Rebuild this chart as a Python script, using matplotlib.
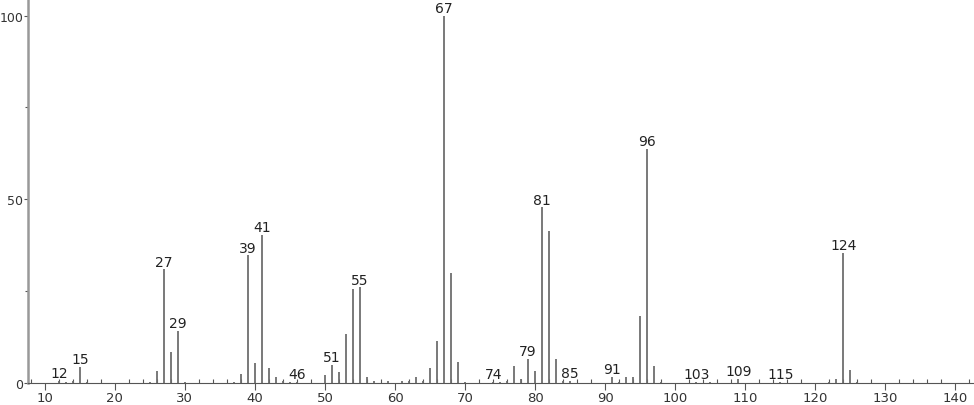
import matplotlib
import matplotlib.pyplot as plt
from matplotlib.ticker import MultipleLocator

matplotlib.use("Agg")

# m/z and relative intensity
MZ = [12, 13, 14, 15, 16, 25, 26, 27, 28, 29, 30, 37, 38, 39, 40, 41, 42, 43, 44,
      45, 46, 50, 51, 52, 53, 54, 55, 56, 57, 59, 61, 62, 63, 64, 65, 66, 67, 68,
      69, 70, 74, 75, 76, 77, 78, 79, 80, 81, 82, 83, 84, 85, 91, 92, 93, 94, 95,
      96, 97, 98, 103, 105, 109, 115, 122, 123, 124, 125, 126]
INTENSITY = [0.6, 0.3, 0.6, 4.4, 0.3, 0.3, 3.3, 30.9, 8.5, 14.2, 0.4, 0.4, 2.5,
             34.7, 5.5, 40.4, 4.1, 1.7, 0.5, 0.3, 0.4, 2.2, 4.9, 3.0, 13.4, 25.7,
             26.0, 1.7, 0.5, 0.5, 0.5, 0.5, 1.7, 0.5, 4.1, 11.5, 100.0, 29.8, 5.7,
             0.4, 0.4, 0.3, 0.6, 4.5, 1.1, 6.6, 3.3, 47.8, 41.3, 6.6, 0.5, 0.5,
             1.6, 0.3, 1.5, 1.5, 18.1, 63.7, 4.7, 0.4, 0.4, 0.3, 1.1, 0.4, 0.3,
             1.1, 35.5, 3.5, 0.4]
LABELED = [12, 15, 27, 29, 39, 41, 46, 51, 55, 67, 74, 79, 81, 85, 91, 96, 103,
           109, 115, 124]

AXIS_COLOR = "#999999"
PEAK_COLOR = "#6e6e6e"

fig = plt.figure(figsize=(9.74, 4.06), dpi=100)
ax = fig.add_axes([28 / 974, 22 / 406, 945 / 974, 384 / 406])

ax.vlines(MZ, 0, INTENSITY, color=PEAK_COLOR, linewidth=1.3)

peaks = dict(zip(MZ, INTENSITY))
for m in LABELED:
    ax.annotate(str(m), (m, peaks[m]), xytext=(0, 0.5), textcoords="offset points",
                ha="center", va="bottom", fontsize=10, color="#222222")

ax.set_xlim(7.6, 142.5)
ax.set_ylim(0, 104.5)
ax.xaxis.set_major_locator(MultipleLocator(10))
ax.xaxis.set_minor_locator(MultipleLocator(2))
ax.yaxis.set_major_locator(MultipleLocator(50))
ax.yaxis.set_minor_locator(MultipleLocator(25))

for side in ("top", "right"):
    ax.spines[side].set_visible(False)
ax.spines["left"].set_color(AXIS_COLOR)
ax.spines["left"].set_linewidth(1.8)
ax.spines["bottom"].set_color("#555555")
ax.spines["bottom"].set_linewidth(0.8)

ax.tick_params(axis="x", which="major", direction="out", length=5, width=0.8,
               color="#555555", labelsize=9.5, labelcolor="#333333", pad=1)
ax.tick_params(axis="x", which="minor", direction="in", length=3, width=0.8,
               color="#555555")
ax.tick_params(axis="y", which="major", direction="out", length=3, width=0.8,
               color="#555555", labelsize=9, labelcolor="#333333", pad=0.5)
ax.tick_params(axis="y", which="minor", direction="out", length=2, width=0.8,
               color="#555555")

fig.savefig("out.png", dpi=100)
